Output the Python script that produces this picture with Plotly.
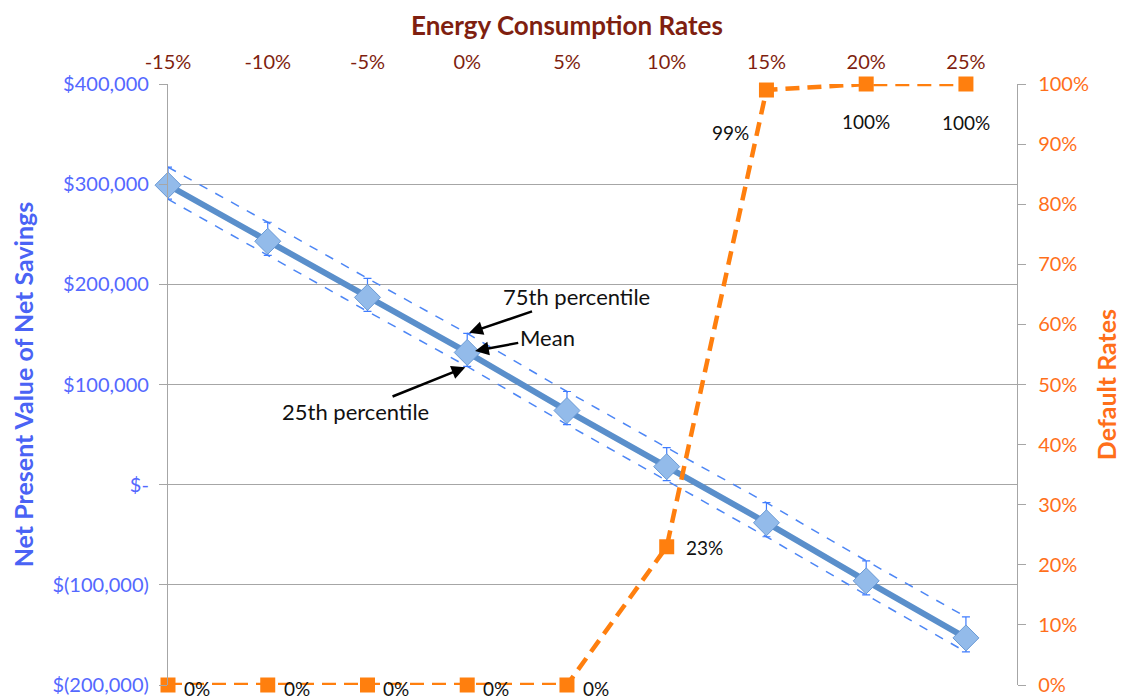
import plotly.graph_objects as go

# ---- data ----
consumption = [-15, -10, -5, 0, 5, 10, 15, 20, 25]
consumption_labels = ["-15%", "-10%", "-5%", "0%", "5%", "10%", "15%", "20%", "25%"]
npv_mean = [299000, 243000, 187000, 132000, 74000, 18000, -38000, -96000, -153000]
npv_p75 = [317000, 262000, 206000, 151000, 93000, 37000, -18000, -76000, -132000]
npv_p25 = [285000, 229000, 173000, 118000, 60000, 4000, -52000, -110000, -167000]
default_rates = [0.0, 0.0, 0.0, 0.0, 0.0, 0.23, 0.99, 1.0, 1.0]
default_labels = ["0%", "0%", "0%", "0%", "0%", "23%", "99%", "100%", "100%"]
npv_tickvals = [400000, 300000, 200000, 100000, 0, -100000, -200000]
npv_ticktext = ["$400,000", "$300,000", "$200,000", "$100,000", "$-", "$(100,000)", "$(200,000)"]
rate_tickvals = [0, 0.1, 0.2, 0.3, 0.4, 0.5, 0.6, 0.7, 0.8, 0.9, 1.0]

# label placement (pixel offsets from each point)
label_dx = [29, 29, 29, 29, 29, 38, -36, 0, 0]
label_dy = [-3, -3, -3, -3, -3, -1, -42, -37, -38]

FONT = "Lato"
BLUE_TXT = "#5468ff"
RED_TXT = "#7f1f10"
ORANGE = "#ff7f0e"
ORANGE_TXT = "#ff6f1a"
GRID = "#a6a6a6"

fig = go.Figure()

fig.add_trace(go.Scatter(
    x=consumption, y=npv_p75, mode="lines",
    line=dict(color="#4d86f5", width=1.5, dash="dash"),
    showlegend=False, cliponaxis=False))
fig.add_trace(go.Scatter(
    x=consumption, y=npv_p25, mode="lines",
    line=dict(color="#4d86f5", width=1.5, dash="dash"),
    showlegend=False, cliponaxis=False))

err_plus = [a - m for a, m in zip(npv_p75, npv_mean)]
err_minus = [m - b for m, b in zip(npv_mean, npv_p25)]
fig.add_trace(go.Scatter(
    x=consumption, y=npv_mean, mode="lines+markers",
    line=dict(color="#5a8fcb", width=6),
    marker=dict(symbol="diamond", size=20, color="#93bbea",
                line=dict(color="#6a9ad6", width=1)),
    error_y=dict(type="data", array=err_plus, arrayminus=err_minus,
                 color="#3f7cff", thickness=1.2, width=4),
    showlegend=False, cliponaxis=False))

fig.add_trace(go.Scatter(
    x=consumption, y=default_rates, yaxis="y2", mode="lines+markers",
    line=dict(color=ORANGE, width=4.5, dash="14px,8px"),
    marker=dict(symbol="square", size=15, color=ORANGE),
    showlegend=False, cliponaxis=False))

for xv, yv, lab, dx, dy in zip(consumption, default_rates, default_labels, label_dx, label_dy):
    fig.add_annotation(x=xv, y=yv, xref="x", yref="y2", text=lab, showarrow=False,
                       xshift=dx, yshift=dy,
                       font=dict(family=FONT, size=19, color="#111111"))

fig.update_layout(
    width=1120, height=692,
    margin=dict(l=160, r=111, t=76, b=15),
    paper_bgcolor="white", plot_bgcolor="white",
    font=dict(family=FONT, size=20),
    xaxis=dict(
        side="top", range=[-15, 27.56], automargin=False,
        tickvals=consumption, ticktext=consumption_labels,
        tickfont=dict(family=FONT, size=20, color=RED_TXT),
        showgrid=False, zeroline=False, showline=False, ticks="",
        ticklabelstandoff=10,
    ),
    yaxis=dict(
        range=[-200000, 400000], tickvals=npv_tickvals, ticktext=npv_ticktext,
        automargin=False,
        tickfont=dict(family=FONT, size=20, color=BLUE_TXT),
        showgrid=True, gridcolor=GRID, gridwidth=1.3,
        zeroline=False, showline=True, linecolor=GRID, linewidth=1.3,
        ticks="outside", ticklen=8, tickcolor=GRID, ticklabelstandoff=6,
        title=dict(text="<b>Net Present Value of Net Savings</b>",
                   font=dict(family=FONT, size=25, color="#4a63f5"), standoff=20),
    ),
    yaxis2=dict(
        overlaying="y", side="right", range=[0, 1], tickvals=rate_tickvals,
        tickformat=".0%", automargin=False,
        tickfont=dict(family=FONT, size=20, color=ORANGE_TXT),
        showgrid=False, zeroline=False, showline=True, linecolor=GRID,
        linewidth=1.3, ticks="outside", ticklen=8, tickcolor=GRID,
        ticklabelstandoff=8,
        title=dict(text="<b>Default Rates</b>",
                   font=dict(family=FONT, size=25, color=ORANGE_TXT), standoff=10),
    ),
)

# top axis title, centred over the category span
fig.add_annotation(x=(consumption[0] + consumption[-1]) / 2, y=1, xref="x", yref="paper",
                   yanchor="middle", yshift=59, showarrow=False,
                   text="<b>Energy Consumption Rates</b>",
                   font=dict(family=FONT, size=26, color=RED_TXT))

ann_font = dict(family=FONT, size=22, color="#111111")
fig.add_annotation(x=0, y=npv_p75[3], text="75th percentile", showarrow=True,
                   ax=109, ay=-37, arrowhead=2, arrowsize=1.1, arrowwidth=2.5,
                   arrowcolor="black", standoff=2, font=ann_font)
fig.add_annotation(x=0, y=npv_mean[3], text="Mean", showarrow=True,
                   ax=80, ay=-15, arrowhead=2, arrowsize=1.1, arrowwidth=2.5,
                   arrowcolor="black", standoff=8, font=ann_font)
fig.add_annotation(x=0, y=npv_p25[3], text="25th percentile", showarrow=True,
                   ax=-112, ay=45, arrowhead=2, arrowsize=1.1, arrowwidth=2.5,
                   arrowcolor="black", standoff=2, font=ann_font)

fig.write_html("out.html")
